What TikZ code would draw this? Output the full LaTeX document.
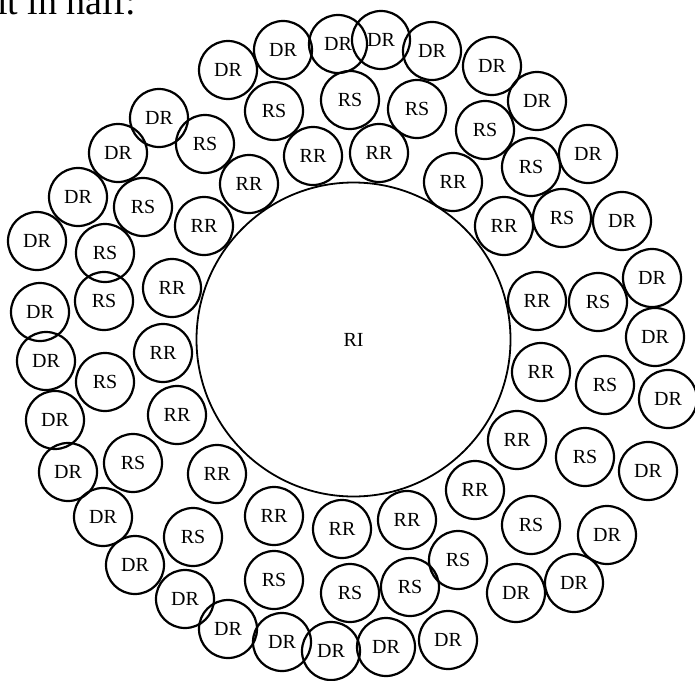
\documentclass[tikz,border=0pt]{standalone}
\usepackage{fontspec}
\setmainfont{Liberation Serif}
\begin{document}
\begin{tikzpicture}[x=1pt,y=-1pt,
  cell/.style={circle,draw,line width=2.2pt,minimum size=58pt,inner sep=0pt,font=\fontsize{20}{20}\selectfont},
  big/.style={circle,draw,line width=1.8pt,minimum size=314pt,inner sep=0pt,font=\fontsize{20}{20}\selectfont}]
\useasboundingbox (0,0) rectangle (695,680);
\clip (0,0) rectangle (695,680);
\node[anchor=base west,inner sep=0pt,font=\fontsize{38}{38}\selectfont] (cap) at (-3,14) {it in half:};
\node[big] (ri) at (353.5,339.5) {RI};
\foreach \x/\y [count=\i] in {228/70,283/50,338/44,381/40,432/51,492/66,537/101,588/154,622/221,652/278,655/337,668/399,648/471,607/535,574/583,516/593,448/640,386/647,331/651,282/642,228/629,185/599,135/565,103/517,68/472,55/420,46/361,40/312,37/241,78/197,118/153,159/118}
  \node[cell] (dr\i) at (\x,\y) {DR};
\foreach \x/\y [count=\i] in {274/111,350/100,417/109,485/130,531/167,562/218,598/302,605/385,585/457,531/525,458/560,410/587,350/593,274/580,193/537,133/463,105/382,104/301,105/253,143/207,205/144}
  \node[cell] (rs\i) at (\x,\y) {RS};
\foreach \x/\y [count=\i] in {313/156,379/153,453/182,504/226,537/301,541/372,517/440,475/490,407/520,342/529,274/516,217/474,177/415,163/353,172/288,204/226,249/184}
  \node[cell] (rr\i) at (\x,\y) {RR};
\end{tikzpicture}
\end{document}
